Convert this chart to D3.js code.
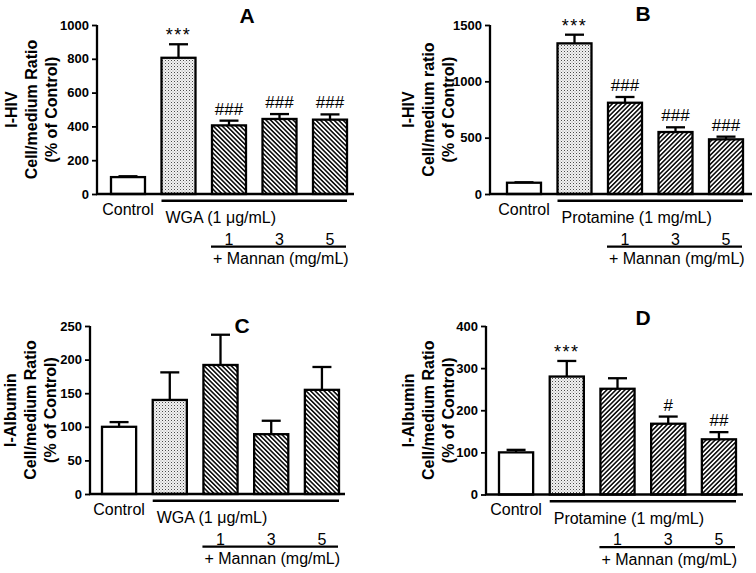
<!DOCTYPE html>
<html><head><meta charset="utf-8">
<script src="https://cdn.jsdelivr.net/npm/d3@7"></script>
<style>
body{margin:0;background:#fff}
svg{display:block}
text{font-family:"Liberation Sans",Arial,Helvetica,sans-serif;fill:#000}
</style>
</head><body>
<svg id="chart" width="756" height="573"></svg>
<script>
// ---------- data ----------
const categories = ["Control", "Agent", "Agent + Mannan 1", "Agent + Mannan 3", "Agent + Mannan 5"];
const mannanDoses = ["1", "3", "5"];
const panelLetters = ["A", "B", "C", "D"];
const treatmentLabels = ["WGA (1 \u03bcg/mL)", "Protamine (1 mg/mL)", "WGA (1 \u03bcg/mL)", "Protamine (1 mg/mL)"];
const mannanLabel = "+ Mannan (mg/mL)";
const yLabelsA = ["I-HIV", "Cell/medium Ratio", "(% of Control)"];
const yLabelsB = ["I-HIV", "Cell/medium ratio", "(% of Control)"];
const yLabelsC = ["I-Albumin", "Cell/medium Ratio", "(% of Control)"];
const yLabelsD = ["I-Albumin", "Cell/medium Ratio", "(% of Control)"];

const meansA = [100, 806, 406, 444, 440];
const semA   = [5, 80, 28, 29, 31];
const marksA = ["", "***", "###", "###", "###"];
const ticksA = [0, 200, 400, 600, 800, 1000];

const meansB = [100, 1337, 810, 550, 485];
const semB   = [4, 77, 51, 42, 24];
const marksB = ["", "***", "###", "###", "###"];
const ticksB = [0, 500, 1000, 1500];

const meansC = [100, 140, 192, 89, 155];
const semC   = [7, 41, 45, 20, 34];
const marksC = ["", "", "", "", ""];
const ticksC = [0, 50, 100, 150, 200, 250];

const meansD = [100, 280, 251, 168, 131];
const semD   = [6, 37, 25, 17, 17];
const marksD = ["", "***", "", "#", "##"];
const ticksD = [0, 100, 200, 300, 400];

// ---------- layout ----------
const layouts = [
  {axisX: 97,  y0: 194,   yTop: 25,  barL: 111, barR: 347, axisEnd: 354, titleX: 247, titleY: 15.5, labX: 11,  hatch: -45},
  {axisX: 490, y0: 194,   yTop: 25,  barL: 507, barR: 743, axisEnd: 752, titleX: 643, titleY: 13.7, labX: 408, hatch: 45},
  {axisX: 90,  y0: 494,   yTop: 326, barL: 102, barR: 339, axisEnd: 345, titleX: 242, titleY: 325,  labX: 10,  hatch: -45},
  {axisX: 486, y0: 494.5, yTop: 326, barL: 499, barR: 736, axisEnd: 743, titleX: 643, titleY: 317.5, labX: 408, hatch: 45}
];

const panels = [
  {means: meansA, sem: semA, marks: marksA, ticks: ticksA, ylab: yLabelsA},
  {means: meansB, sem: semB, marks: marksB, ticks: ticksB, ylab: yLabelsB},
  {means: meansC, sem: semC, marks: marksC, ticks: ticksC, ylab: yLabelsC},
  {means: meansD, sem: semD, marks: marksD, ticks: ticksD, ylab: yLabelsD}
];

const svg = d3.select("#chart");
svg.append("rect").attr("width", 756).attr("height", 573).attr("fill", "#fff");

// patterns
const defs = svg.append("defs");
const stip = defs.append("pattern").attr("id", "stipple").attr("patternUnits", "userSpaceOnUse")
  .attr("width", 3).attr("height", 3);
stip.append("rect").attr("width", 3).attr("height", 3).attr("fill", "#f2f2f2");
stip.append("rect").attr("x", 0).attr("y", 0).attr("width", 1).attr("height", 1).attr("fill", "#4a4a4a");
stip.append("rect").attr("x", 1.5).attr("y", 1.5).attr("width", 1).attr("height", 1).attr("fill", "#9a9a9a");

[-45, 45].forEach(a => {
  const p = defs.append("pattern").attr("id", "hatch" + (a < 0 ? "L" : "R"))
    .attr("patternUnits", "userSpaceOnUse").attr("width", 3.2).attr("height", 3.2)
    .attr("patternTransform", `rotate(${a})`);
  p.append("rect").attr("width", 3.2).attr("height", 3.2).attr("fill", "#fff");
  p.append("rect").attr("x", 0).attr("y", 0).attr("width", 1.6).attr("height", 3.2).attr("fill", "#111");
});

const SW = 2.3;

panels.forEach((pd, i) => {
  const L = layouts[i];
  const maxTick = pd.ticks[pd.ticks.length - 1];
  const y = d3.scaleLinear().domain([0, maxTick]).range([L.y0, L.yTop]);
  const x = d3.scaleBand().domain(categories).range([L.barL, L.barR]).paddingInner(0.327).paddingOuter(0);
  const g = svg.append("g");
  const hid = `url(#hatch${L.hatch < 0 ? "L" : "R"})`;
  const fills = ["#fff", "url(#stipple)", hid, hid, hid];

  // error bars (drawn before bars so the bar outline sits on top)
  categories.forEach((c, k) => {
    const cx = x(c) + x.bandwidth() / 2;
    const top = y(pd.means[k] + pd.sem[k]);
    g.append("line").attr("x1", cx).attr("x2", cx).attr("y1", y(pd.means[k])).attr("y2", top)
      .attr("stroke", "#000").attr("stroke-width", SW);
    g.append("line").attr("x1", cx - 9.5).attr("x2", cx + 9.5).attr("y1", top).attr("y2", top)
      .attr("stroke", "#000").attr("stroke-width", SW);
    if (pd.marks[k]) {
      const isStar = pd.marks[k].includes("*");
      g.append("text").attr("x", cx).attr("y", top - (isStar ? 3 : 6))
        .attr("text-anchor", "middle").attr("font-size", isStar ? 18 : 17)
        .attr("letter-spacing", isStar ? "1.5px" : "0px")
        .text(pd.marks[k]);
    }
  });

  // bars
  g.selectAll("rect.bar").data(categories).enter().append("rect")
    .attr("class", "bar")
    .attr("x", c => x(c))
    .attr("y", (c, k) => y(pd.means[k]))
    .attr("width", x.bandwidth())
    .attr("height", (c, k) => L.y0 - y(pd.means[k]))
    .attr("fill", (c, k) => fills[k])
    .attr("stroke", "#000").attr("stroke-width", SW);

  // y axis
  const ax = g.append("g").attr("transform", `translate(${L.axisX},0)`)
    .call(d3.axisLeft(y).tickValues(pd.ticks).tickSize(5).tickPadding(3).tickFormat(d3.format("d")));
  ax.select(".domain").attr("stroke-width", SW).attr("d", `M0,${L.yTop}V${L.y0}`);
  ax.selectAll(".tick line").attr("stroke-width", 1.8);
  ax.selectAll(".tick text").attr("font-size", 13).attr("font-weight", "bold")
    .attr("font-family", "'Liberation Sans',Arial,sans-serif");

  // x axis baseline
  g.append("line").attr("x1", L.axisX - 1).attr("x2", L.axisEnd).attr("y1", L.y0).attr("y2", L.y0)
    .attr("stroke", "#000").attr("stroke-width", SW);

  // title letter
  g.append("text").attr("x", L.titleX).attr("y", L.titleY).attr("dy", "0.36em")
    .attr("text-anchor", "middle").attr("font-size", 21).attr("font-weight", "bold").text(panelLetters[i]);

  // y label lines
  const midY = (L.y0 + L.yTop) / 2;
  pd.ylab.forEach((t, j) => {
    g.append("text").attr("transform", `translate(${L.labX + 20 * j},${midY}) rotate(-90)`)
      .attr("dy", "0.36em").attr("text-anchor", "middle")
      .attr("font-size", 16).attr("font-weight", "bold").text(t);
  });

  // category annotations
  const ctrlX = x(categories[0]) + x.bandwidth() / 2;
  g.append("text").attr("x", ctrlX).attr("y", L.y0 + 20.5).attr("text-anchor", "middle")
    .attr("font-size", 16).text("Control");
  const gL = x(categories[1]), gR = x(categories[4]) + x.bandwidth();
  g.append("line").attr("x1", gL).attr("x2", gR).attr("y1", L.y0 + 6.7).attr("y2", L.y0 + 6.7)
    .attr("stroke", "#000").attr("stroke-width", 2.4);
  g.append("text").attr("x", gL + 4).attr("y", L.y0 + 29).attr("font-size", 16).text(treatmentLabels[i]);

  mannanDoses.forEach((d, k) => {
    const c = categories[k + 2];
    g.append("text").attr("x", x(c) + x.bandwidth() / 2).attr("y", L.y0 + 50.5)
      .attr("text-anchor", "middle").attr("font-size", 16).text(d);
  });
  const mL = x(categories[2]) - 1, mR = x(categories[4]) + x.bandwidth() - 1;
  g.append("line").attr("x1", mL).attr("x2", mR).attr("y1", L.y0 + 52.7).attr("y2", L.y0 + 52.7)
    .attr("stroke", "#000").attr("stroke-width", 2.2);
  g.append("text").attr("x", mL + 2).attr("y", L.y0 + 70).attr("font-size", 16).text(mannanLabel);
});
</script>
</body></html>
